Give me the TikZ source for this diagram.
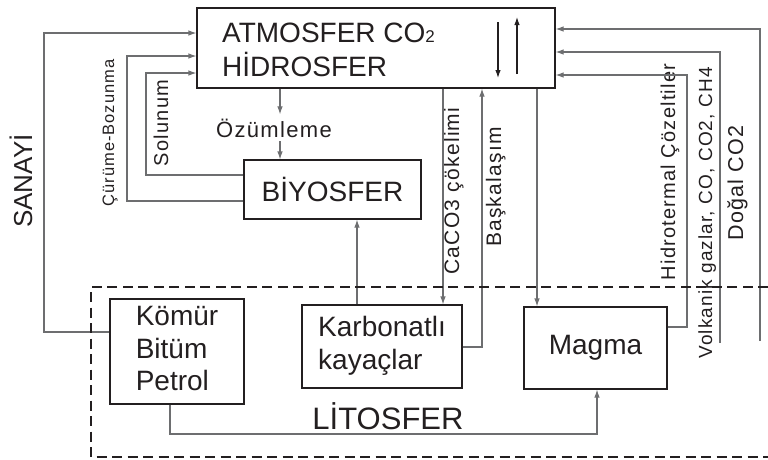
\documentclass[tikz,border=0pt]{standalone}
\usepackage{fontspec}
\setmainfont{Liberation Sans}
\newfontfamily\lblfont[LetterSpace=6]{Liberation Sans}
\usetikzlibrary{arrows.meta}

\definecolor{ink}{HTML}{231F20}
\definecolor{wire}{HTML}{6D6E70}

\begin{document}
\begin{tikzpicture}[x=1pt, y=-1pt, >={Latex[length=8pt,width=5.5pt]},
    bx/.style={draw=ink, line width=1.1pt, inner sep=0pt, align=center, text=ink,
      font=\fontsize{28}{32.5}\selectfont},
    ln/.style={draw=wire, line width=1.1pt},
    vt/.style={rotate=90, anchor=base, inner sep=0pt, text=ink}]
  \useasboundingbox (0,0) rectangle (768,459);

  % boxes
  \node[bx, minimum width=358pt, minimum height=80pt] (atm) at (376,48) {};
  \node[anchor=north west, inner sep=0pt, align=left, text=ink,
    font=\fontsize{28}{34}\selectfont] (atmtxt) at (222,23)
    {ATMOSFER CO{\fontsize{17}{17}\selectfont 2}\\HİDROSFER};
  \node[bx, minimum width=177pt, minimum height=59pt] (biyo) at (332.5,189.5) {BİYOSFER};
  \node[bx, minimum width=134pt, minimum height=105pt] (komur) at (177,351.5) {\begin{tabular}{@{}l@{}}Kömür\\Bitüm\\Petrol\end{tabular}};
  \node[bx, minimum width=160pt, minimum height=83pt] (karb) at (382,346.5) {\begin{tabular}{@{}l@{}}Karbonatlı\\kayaçlar\end{tabular}};
  \node[bx, minimum width=143pt, minimum height=82pt] (magma) at (595.5,348) {Magma};

  % labels
  \node[vt, font=\fontsize{26}{26}\selectfont] (sanayi) at (32,181) {SANAYİ};
  \node[vt, font=\lblfont\fontsize{16.5}{16.5}\selectfont] (curume) at (114,133) {Çürüme-Bozunma};
  \node[vt, font=\lblfont\fontsize{20}{20}\selectfont] (solunum) at (168,123) {Solunum};
  \node[anchor=base, inner sep=4pt, text=ink, font=\lblfont\fontsize{22}{22}\selectfont] (ozum) at (274,137) {Özümleme};
  \node[vt, font=\lblfont\fontsize{21}{21}\selectfont] (caco) at (459,191) {CaCO3 çökelimi};
  \node[vt, font=\lblfont\fontsize{21}{21}\selectfont] (baskal) at (501,187) {Başkalaşım};
  \node[vt, font=\lblfont\fontsize{20}{20}\selectfont] (hidro) at (675,172) {Hidrotermal Çözeltiler};
  \node[vt, font=\lblfont\fontsize{19}{19}\selectfont] (volkanik) at (712,213) {Volkanik gazlar, CO, CO2, CH4};
  \node[vt, font=\lblfont\fontsize{21.5}{21.5}\selectfont] (dogal) at (743,183) {Doğal CO2};
  \node[anchor=base, inner sep=0pt, text=ink, font=\fontsize{31}{31}\selectfont] (lito) at (388,429) {LİTOSFER};

  % free ends
  \coordinate (volkend) at (720,343);
  \coordinate (dogalend) at (760,341);
  \coordinate (downtop) at (498,22);
  \coordinate (downbot) at (498,78);
  \coordinate (uptop) at (517,17);
  \coordinate (upbot) at (517,74);

  % connectors
  \draw[ln,->] (komur.west |- 0,332) -| (44,33) -- (atm.west |- 0,33);
  \draw[ln,->] (biyo.west |- 0,201) -| (127,56) -- (atm.west |- 0,56);
  \draw[ln,->] (biyo.west |- 0,175) -| (146,73) -- (atm.west |- 0,73);
  \draw[ln,->] (atm.south -| 280,0) -- (ozum.north -| 280,0);
  \draw[ln,->] (ozum.south -| 280,0) -- (biyo.north -| 280,0);
  \draw[ln,->] (atm.south -| 443,0) -- (karb.north -| 443,0);
  \draw[ln,->] (karb.east |- 0,347) -| (atm.south -| 482,0);
  \draw[ln,->] (atm.south -| 537,0) -- (magma.north -| 537,0);
  \draw[ln,->] (karb.north -| 357,0) -- (biyo.south -| 357,0);
  \draw[ln,->] (komur.south -| 170,0) |- (597,434) -- (magma.south -| 597,0);
  \draw[ln,->] (magma.east |- 0,327) -| (687,75) -- (atm.east |- 0,75);
  \draw[ln,->] (volkend) |- (atm.east |- 0,52);
  \draw[ln,->] (dogalend) |- (atm.east |- 0,29);
  \draw[ink, line width=1.1pt, ->] (downtop) -- (downbot);
  \draw[ink, line width=1.1pt, ->] (upbot) -- (uptop);

  % litosfer
  \draw[ink, line width=1.8pt, dash pattern=on 10pt off 5.5pt] (768,287) -- (91,287) -- (91,457) -- (768,457);
\end{tikzpicture}
\end{document}
